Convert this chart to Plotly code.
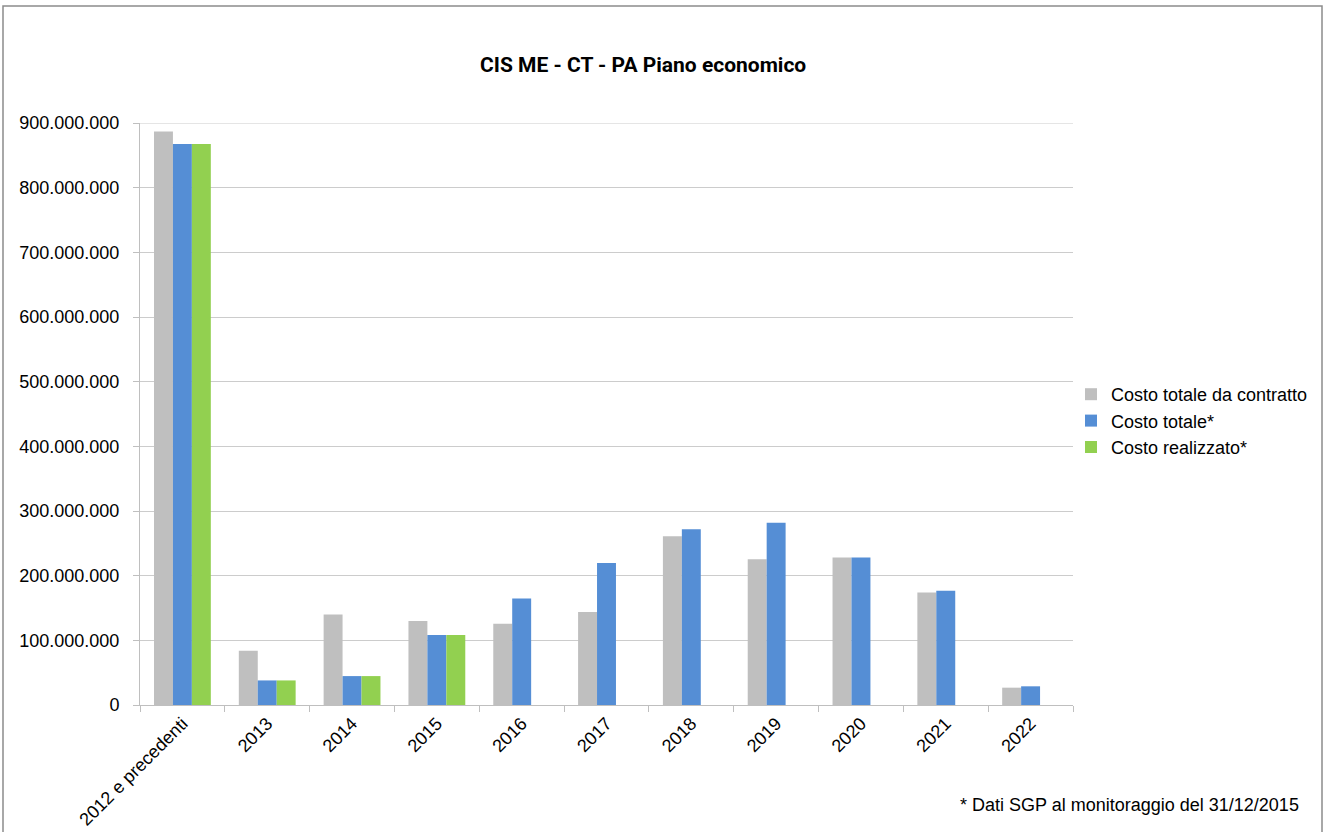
import plotly.graph_objects as go

categories = ["2012 e precedenti", "2013", "2014", "2015", "2016", "2017",
              "2018", "2019", "2020", "2021", "2022"]
costo_contratto = [887e6, 84e6, 140e6, 130e6, 125.5e6, 144e6, 261e6, 225.5e6, 228e6, 174e6, 26.8e6]
costo_totale = [867.5e6, 38e6, 44.7e6, 108.4e6, 164.7e6, 219.4e6, 271.6e6, 281.9e6, 228e6, 176.6e6, 28.9e6]
costo_realizzato = [867.5e6, 38e6, 44.7e6, 108.4e6, None, None, None, None, None, None, None]

series_names = ["Costo totale da contratto", "Costo totale*", "Costo realizzato*"]
series_colors = ["#BFBFBF", "#558ED5", "#92D050"]
ytick_vals = [0, 100e6, 200e6, 300e6, 400e6, 500e6, 600e6, 700e6, 800e6, 900e6]

W, H = 1326, 832
L, R, T, B = 140, 1073, 123, 705

def px(x):
    return (x - L) / (R - L)

def py(y):
    return (B - y) / (B - T)

fig = go.Figure()
for name, vals, col in zip(series_names, [costo_contratto, costo_totale, costo_realizzato], series_colors):
    fig.add_trace(go.Bar(x=categories, y=vals, name=name, marker=dict(color=col, line=dict(width=0))))

fig.update_layout(
    width=W, height=H,
    margin=dict(l=L, r=W - R, t=T, b=H - B, pad=0, autoexpand=False),
    paper_bgcolor="white", plot_bgcolor="white",
    barmode="group", bargap=0.33, bargroupgap=0,
    separators=",.",
    font=dict(family="Liberation Sans, Arial, sans-serif", size=18, color="#000000"),
    showlegend=True,
    legend=dict(x=px(1071), y=py(421), xanchor="left", yanchor="middle",
                font=dict(size=18), bgcolor="rgba(0,0,0,0)", itemwidth=30,
                tracegroupgap=0),
    xaxis=dict(type="category", showline=True, linecolor="#BFBFBF", linewidth=1,
               ticks="outside", tickson="boundaries", ticklen=6, tickcolor="#BFBFBF",
               tickangle=-45, showgrid=False, tickfont=dict(size=18), automargin=False),
    yaxis=dict(range=[0, 900e6], tickvals=ytick_vals, tickformat=",d",
               showline=True, linecolor="#BFBFBF", linewidth=1,
               ticks="outside", ticklen=6, tickcolor="#BFBFBF", ticklabelstandoff=10,
               showgrid=True, gridcolor="#CCCCCC", gridwidth=1, zeroline=False,
               tickfont=dict(size=18), automargin=False),
)

fig.add_shape(type="line", xref="paper", yref="y", x0=0, x1=1, y0=900e6, y1=900e6,
              line=dict(color="#CCCCCC", width=1), layer="below")

fig.add_annotation(text="<b>CIS ME - CT - PA Piano economico</b>", xref="paper", yref="paper",
                   x=px(643), y=py(65), xanchor="center", yanchor="middle", showarrow=False,
                   font=dict(family="Roboto, sans-serif", size=21, color="#000000"))
fig.add_annotation(text="* Dati SGP al monitoraggio del 31/12/2015", xref="paper", yref="paper",
                   x=px(1301), y=py(805), xanchor="right", yanchor="middle", showarrow=False,
                   font=dict(size=18, color="#000000"))
fig.add_shape(type="rect", xref="paper", yref="paper",
              x0=px(3), x1=px(1322), y0=py(845), y1=py(6),
              line=dict(color="#8C8C8C", width=1.5), fillcolor="rgba(0,0,0,0)", layer="below")

fig.write_html("out.html")
